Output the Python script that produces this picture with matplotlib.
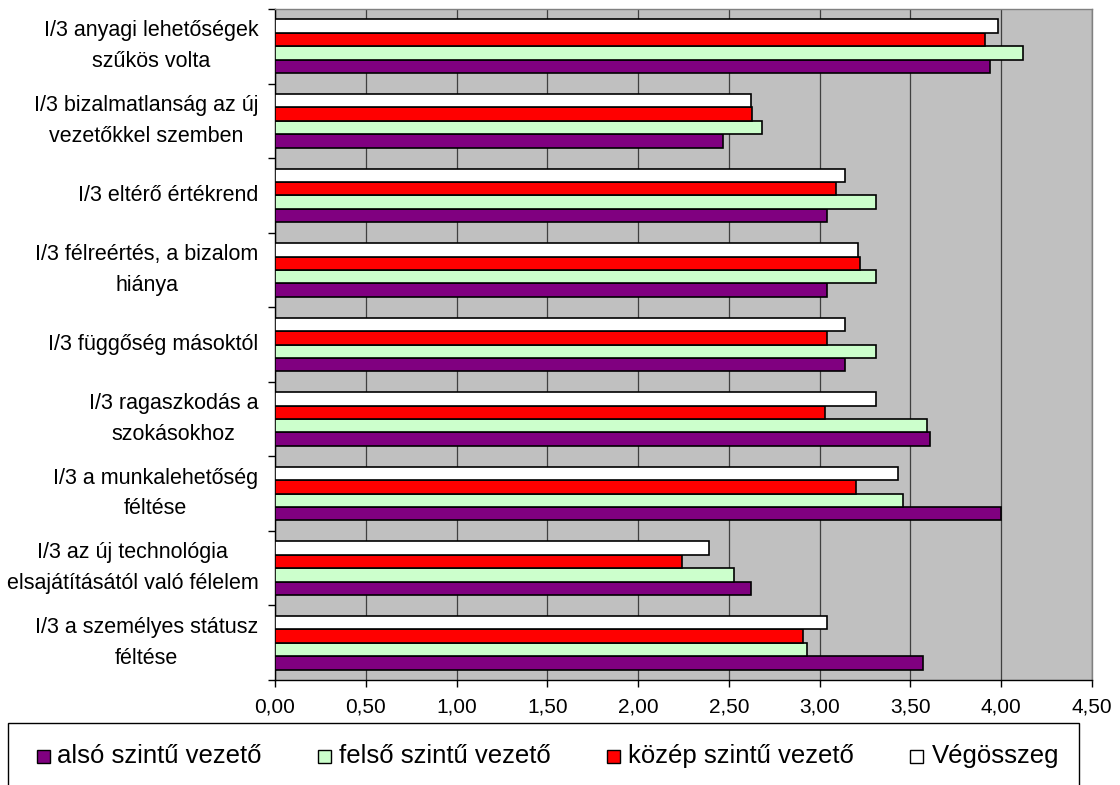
import numpy as np
import matplotlib
matplotlib.use("Agg")
import matplotlib.pyplot as plt
from matplotlib.patches import Rectangle

plt.rcParams['font.family'] = ['Liberation Sans', 'DejaVu Sans']

# Categories, listed top to bottom as they appear on the chart
categories = [
    "I/3 anyagi lehetőségek\nszűkös volta",
    "I/3 bizalmatlanság az új\nvezetőkkel szemben",
    "I/3 eltérő értékrend",
    "I/3 félreértés, a bizalom\nhiánya",
    "I/3 függőség másoktól",
    "I/3 ragaszkodás a\nszokásokhoz",
    "I/3 a munkalehetőség\nféltése",
    "I/3 az új technológia\nelsajátításától való félelem",
    "I/3 a személyes státusz\nféltése",
]

also_szintu = [3.94, 2.47, 3.04, 3.04, 3.14, 3.61, 4.00, 2.62, 3.57]
felso_szintu = [4.12, 2.68, 3.31, 3.31, 3.31, 3.59, 3.46, 2.53, 2.93]
kozep_szintu = [3.91, 2.63, 3.09, 3.22, 3.04, 3.03, 3.20, 2.24, 2.91]
vegosszeg = [3.98, 2.62, 3.14, 3.21, 3.14, 3.31, 3.43, 2.39, 3.04]

series_names = ["alsó szintű vezető", "felső szintű vezető",
                "közép szintű vezető", "Végösszeg"]
series_values = [also_szintu, felso_szintu, kozep_szintu, vegosszeg]
series_colors = ["#800080", "#CCFFCC", "#FF0000", "#FFFFFF"]

x_ticks = np.arange(0, 4.51, 0.5)
x_ticklabels = [f"{v:.2f}".replace(".", ",") for v in x_ticks]

W, H = 1120, 785
fig = plt.figure(figsize=(W / 100, H / 100), dpi=100)
fig.patch.set_facecolor("white")

left, right, top, bottom = 275, 1092, 9, 680
ax = fig.add_axes([left / W, 1 - bottom / H, (right - left) / W, (bottom - top) / H])
ax.set_facecolor("#C0C0C0")

y = np.arange(len(categories))
bar_h = 0.18
# within each group, from the top: Végösszeg, közép, felső, alsó
offsets = {3: -1.5 * bar_h, 2: -0.5 * bar_h, 1: 0.5 * bar_h, 0: 1.5 * bar_h}
for k, (vals, col) in enumerate(zip(series_values, series_colors)):
    ax.barh(y + offsets[k], vals, height=bar_h, color=col,
            edgecolor="black", linewidth=1.2, zorder=3)

ax.set_xlim(0, 4.5)
ax.set_ylim(len(categories) - 0.5, -0.5)

ax.set_xticks(x_ticks)
ax.set_xticklabels(x_ticklabels, fontsize=15)
ax.xaxis.grid(True, color="#404040", linewidth=0.9, zorder=1)
ax.set_axisbelow(True)

ax.set_yticks(y)
ax.set_yticklabels(categories, fontsize=15.5)
for lbl in ax.get_yticklabels():
    lbl.set_multialignment("center")
    lbl.set_linespacing(1.6)
    lbl.set_verticalalignment("center")
ax.set_yticks(np.arange(len(categories) + 1) - 0.5, minor=True)
ax.tick_params(axis="y", which="major", length=0, pad=12)
ax.tick_params(axis="y", which="minor", length=5, width=1, direction="out", color="black")
ax.tick_params(axis="x", which="major", length=5, width=1, direction="out", pad=7.5)

for s in ("top", "right"):
    ax.spines[s].set_color("#808080")
    ax.spines[s].set_linewidth(1)
for s in ("left", "bottom"):
    ax.spines[s].set_color("black")
    ax.spines[s].set_linewidth(1)

# Legend box along the bottom of the figure
def px(xp, yp):
    return xp / W, 1 - yp / H

lx, ly = px(8, 723)
fig.add_artist(Rectangle((lx, 1 - 800 / H), (1079 - 8) / W, (800 - 723) / H,
                         transform=fig.transFigure, facecolor="white",
                         edgecolor="black", linewidth=1))

marker_x = [37, 318, 607, 910]
text_x = [57, 339, 628, 932]
sq = 13
cy = 756
for name, col, mx, tx in zip(series_names, series_colors, marker_x, text_x):
    x0, y0 = px(mx, cy + sq / 2)
    fig.add_artist(Rectangle((x0, y0), sq / W, sq / H, transform=fig.transFigure,
                             facecolor=col, edgecolor="black", linewidth=1))
    tx0, ty0 = px(tx, cy)
    fig.text(tx0, ty0, name, fontsize=18.5, ha="left", va="center")

fig.savefig("out.png", dpi=100)
